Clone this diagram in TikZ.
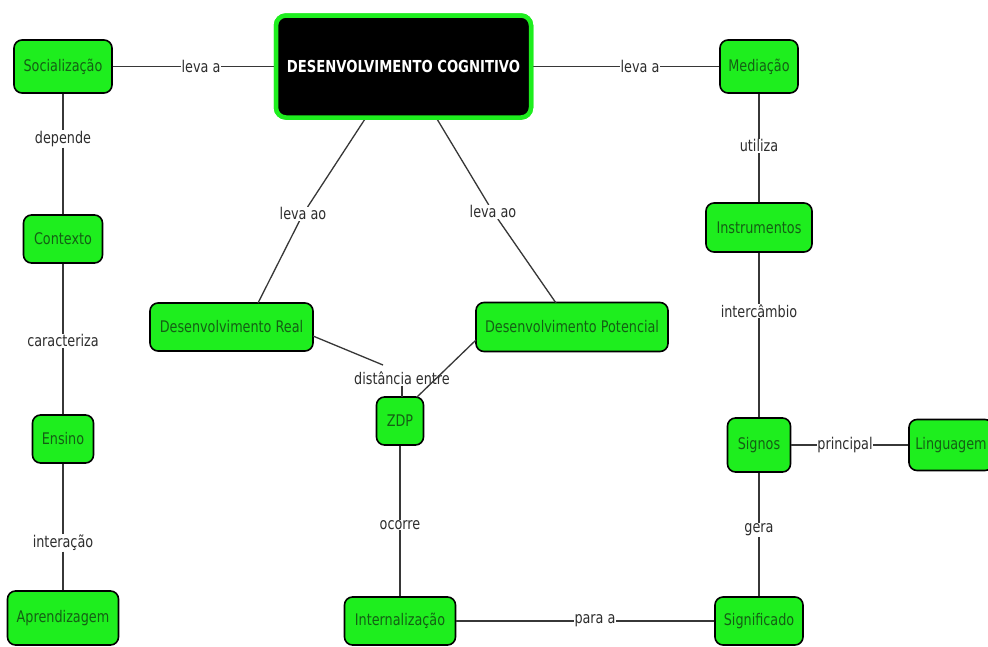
\documentclass[tikz,border=0pt]{standalone}
\usepackage{fontspec}
\setmainfont{DejaVu Sans}[FakeStretch=0.8]
\definecolor{cgreen}{RGB}{30,238,30}
\definecolor{ctext}{RGB}{20,95,20}
\definecolor{cline}{RGB}{55,55,55}
\definecolor{clabel}{RGB}{45,45,45}
\begin{document}
\begin{tikzpicture}[x=1pt,y=-1pt,
  concept/.style={draw=black,line width=1.6pt,fill=cgreen,rounded corners=8pt,
    text=ctext,font=\fontsize{16}{18}\selectfont,inner sep=0pt,align=center},
  lab/.style={fill=white,text=clabel,font=\fontsize{16}{18}\selectfont,inner sep=0.6pt},
  main/.style={draw=cgreen,line width=4.5pt,fill=black,rounded corners=10pt,minimum width=255pt,minimum height=102pt,
    text=white,font=\bfseries\fontsize{16.5}{18}\selectfont},
  conn/.style={draw=cline,line width=1.3pt}]
\clip (0,0) rectangle (988,646);
\fill[white] (0,0) rectangle (988,646);
% main node
\node[main] (dc) at (403.5,66.5) {DESENVOLVIMENTO COGNITIVO};
% left column
\node[concept,minimum width=98pt,minimum height=53pt] (soc) at (63,66.5) {Socialização};
\node[concept,minimum width=79pt,minimum height=48pt] (ctx) at (63,239) {Contexto};
\node[concept,minimum width=61pt,minimum height=48pt] (ens) at (63,439) {Ensino};
\node[concept,minimum width=111pt,minimum height=54pt] (apr) at (63,618) {Aprendizagem};
% center
\node[concept,minimum width=163pt,minimum height=48pt] (dr) at (231.5,327) {Desenvolvimento Real};
\node[concept,minimum width=192pt,minimum height=49pt] (dp) at (572,327) {Desenvolvimento Potencial};
\node[concept,minimum width=47pt,minimum height=48pt] (zdp) at (400,421) {ZDP};
\node[concept,minimum width=111pt,minimum height=48pt] (int) at (400,621) {Internalização};
% right column
\node[concept,minimum width=78pt,minimum height=53pt] (med) at (759,66.5) {Mediação};
\node[concept,minimum width=106pt,minimum height=49pt] (ins) at (759,227.5) {Instrumentos};
\node[concept,minimum width=63pt,minimum height=54pt] (sig) at (759,445) {Signos};
\node[concept,minimum width=84pt,minimum height=51pt] (lin) at (951,445) {Linguagem};
\node[concept,minimum width=88pt,minimum height=48pt] (sgf) at (759,621) {Significado};
% labels
\node[lab] (l1) at (201,66.5) {leva a};
\node[lab] (l2) at (640,66.5) {leva a};
\node[lab] (l3) at (63,139) {depende};
\node[lab] (l4) at (63,341) {caracteriza};
\node[lab] (l5) at (63,543) {interação};
\node[lab] (l6) at (303,214) {leva ao};
\node[lab] (l7) at (493,212) {leva ao};
\node[lab] (l9) at (759,146) {utiliza};
\node[lab] (l10) at (759,311) {intercâmbio};
\node[lab] (l11) at (845,445) {principal};
\node[lab] (l12) at (759,530) {gera};
\node[lab] (l13) at (400,525) {ocorre};
\node[lab] (l14) at (595,621) {para a};
\coordinate (zt1) at (402,397);
\coordinate (zt2) at (417,397);
\coordinate (drr) at (313,336);
\coordinate (dpl) at (476,340);
\coordinate (l8a) at (383,365);
\coordinate (dcl) at (365,119);
\coordinate (dcr) at (437,119);
\coordinate (drt) at (258,303);
\coordinate (dpt) at (556,303);
% connectors
\draw[conn] (soc) -- (l1) -- (dc);
\draw[conn] (dc) -- (l2) -- (med);
\draw[conn] (soc) -- (l3) -- (ctx);
\draw[conn] (ctx) -- (l4) -- (ens);
\draw[conn] (ens) -- (l5) -- (apr);
\draw[conn] (dcl) -- (l6) -- (drt);
\draw[conn] (dcr) -- (l7) -- (dpt);
\draw[conn] (med) -- (l9) -- (ins);
\draw[conn] (ins) -- (l10) -- (sig);
\draw[conn] (sig) -- (l11) -- (lin);
\draw[conn] (sig) -- (l12) -- (sgf);
\draw[conn] (zdp) -- (l13) -- (int);
\draw[conn] (int) -- (l14) -- (sgf);
\draw[conn] (drr) -- (l8a);
\node[text=clabel,font=\fontsize{16}{18}\selectfont,inner sep=1pt] (l8) at (402,378) {distância entre};
\draw[conn] (dpl) -- (zt2);
\draw[conn] (l8.south -| zt1) -- (zt1);
% redraw label nodes on top
\foreach \n/\t in {l1/leva a,l2/leva a,l3/depende,l4/caracteriza,l5/interação,l6/leva ao,l7/leva ao,l9/utiliza,l10/intercâmbio,l11/principal,l12/gera,l13/ocorre,l14/para a}{
  \node[lab] at (\n) {\t};
}
\node[main] at (dc) {DESENVOLVIMENTO COGNITIVO};
\end{tikzpicture}
\end{document}
